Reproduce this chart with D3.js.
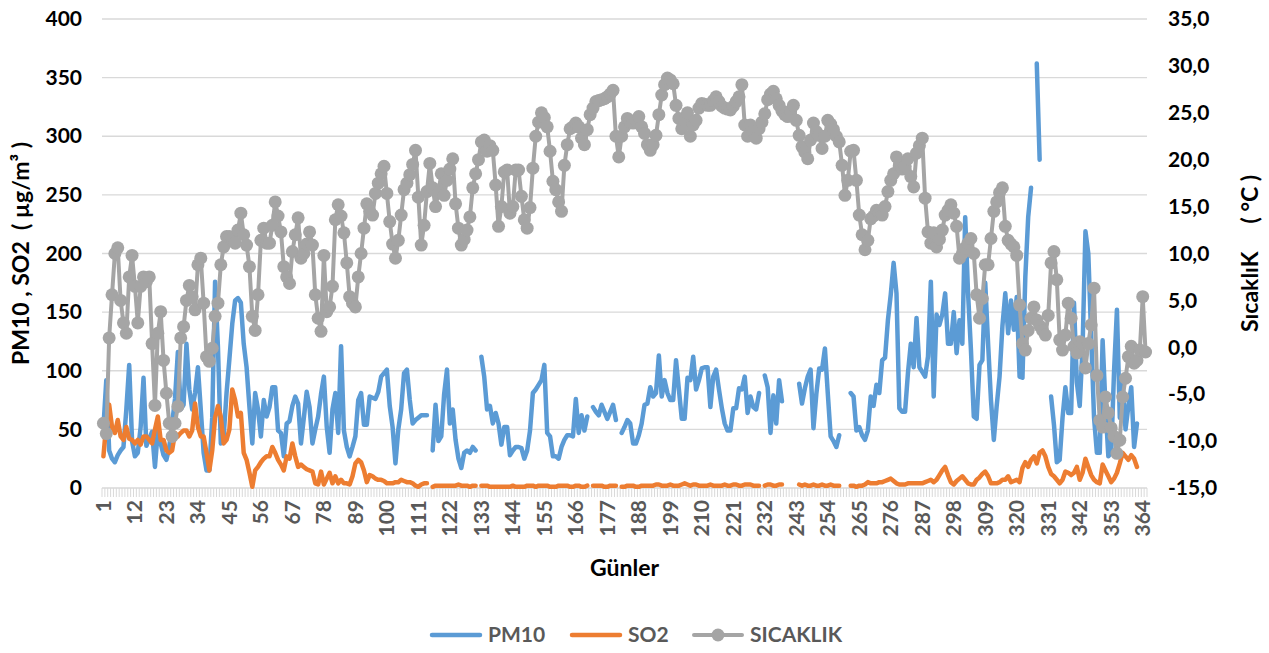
<!DOCTYPE html>
<html>
<head>
<meta charset="utf-8">
<script src="https://cdn.jsdelivr.net/npm/d3@7"></script>
<style>
  body { margin: 0; background: #ffffff; }
  svg text { font-family: Lato, "Open Sans", "Liberation Sans", sans-serif; font-weight: 700; }
</style>
</head>
<body>
<svg id="chart" width="1269" height="653"></svg>
<script>
// Daily categories and the labelled ones on the x axis
const days = d3.range(1, 366);
const tickDays = d3.range(1, 366, 11);

// Left axis (µg/m³) and right axis (°C) tick values
const leftTicks = d3.range(0, 401, 50);
const rightTicks = d3.range(-15, 36, 5);

// PM10 daily means, µg/m³ (null = no measurement)
const pm10 = [
  52, 92, 32, 25, 22, 28, 32, 35, 67, 105,
  40, 27, 30, 52, 94, 36, 42, 48, 18, 49,
  38, 28, 24, 35, 55, 76, 116, 67, 71, 123,
  84, 67, 81, 103, 67, 30, 15, 15, 60, 176,
  120, 38, 44, 81, 110, 140, 160, 162, 158, 123,
  103, 69, 38, 81, 67, 44, 75, 61, 69, 86,
  86, 49, 47, 27, 55, 57, 70, 78, 72, 38,
  60, 82, 69, 38, 50, 61, 80, 95, 52, 30,
  67, 81, 47, 121, 49, 35, 27, 35, 44, 75,
  81, 54, 54, 78, 77, 76, 82, 95, 98, 101,
  70, 52, 21, 50, 67, 98, 101, 75, 55, 58,
  60, 62, 62, 62, null, 32, 71, 40, 44, 80,
  101, 55, 67, 41, 25, 17, 30, 32, 30, 35,
  32, null, 112, 95, 67, 70, 55, 64, 55, 37,
  52, 52, 28, 32, 35, 35, 34, 25, 32, 49,
  81, 84, 88, 92, 105, 47, 44, 27, 27, 25,
  35, 41, 45, 45, 44, 76, 47, 62, 49, 61,
  null, 69, 65, 62, 71, 65, 59, 65, 71, 58,
  null, 47, 52, 58, 55, 38, 38, 45, 55, 71,
  72, 86, 78, 81, 113, 78, 92, 81, 75, 75,
  109, 84, 59, 59, 94, 92, 112, 84, 92, 102,
  103, 103, 69, 95, 101, 84, 68, 55, 49, 49,
  68, 68, 85, 84, 95, 64, 78, 69, 67, 81,
  null, 96, 86, 47, 79, 55, 92, 74, null, null,
  null, null, null, 89, 72, 85, 95, 101, 51, 80,
  102, 101, 119, 81, 44, 40, 35, 45, null, null,
  null, 81, 78, 49, 52, 45, 41, 49, 78, 70,
  88, 81, 109, 111, 143, 165, 192, 166, 68, 65,
  65, 98, 123, 103, 145, 103, 99, 95, 112, 176,
  78, 148, 139, 148, 166, 123, 123, 150, 115, 143,
  123, 231, 166, 118, 61, 59, 105, 109, 175, 123,
  75, 41, 70, 95, 138, 166, 132, 160, 135, 163,
  95, 94, 180, 231, 256, null, 362, 280, null, null,
  null, 78, 54, 22, 24, 60, 86, 64, 64, 158,
  90, 70, 120, 219, 200, 130, 60, 30, 30, 126,
  70, 27, 30, 100, 152, 60, 89, 50, 70, 86,
  35, 55, null, null, null
];

// SO2 daily means, µg/m³ (null = no measurement)
const so2 = [
  27, 55, 71, 52, 47, 58, 44, 41, 52, 42,
  41, 38, 41, 37, 44, 44, 41, 38, 50, 61,
  41, 41, 32, 30, 32, 47, 44, 47, 49, 49,
  44, 49, 72, 52, 44, 44, 30, 15, 32, 60,
  70, 61, 38, 41, 50, 84, 75, 61, 64, 30,
  24, 13, 1, 15, 18, 22, 25, 27, 27, 35,
  30, 24, 20, 15, 27, 25, 38, 27, 18, 20,
  18, 16, 15, 14, 4, 3, 14, 3, 8, 13,
  4, 10, 4, 7, 4, 4, 3, 10, 21, 24,
  22, 15, 5, 11, 10, 8, 7, 7, 6, 4,
  4, 4, 5, 5, 7, 6, 5, 5, 4, 2,
  1, 3, 4, 4, null, 1, 2, 2, 2, 2,
  2, 2, 2, 2, 3, 2, 2, 2, 1, 2,
  2, null, 2, 2, 2, 1, 1, 1, 1, 1,
  1, 1, 1, 2, 1, 1, 1, 1, 2, 2,
  2, 1, 2, 2, 2, 2, 1, 1, 1, 2,
  2, 2, 2, 1, 1, 2, 2, 1, 1, 2,
  null, 2, 2, 2, 2, 1, 1, 2, 2, 2,
  null, 1, 1, 2, 2, 2, 1, 1, 2, 2,
  2, 2, 2, 3, 3, 2, 2, 2, 3, 2,
  2, 2, 3, 4, 3, 2, 3, 3, 2, 2,
  2, 2, 3, 2, 2, 2, 2, 3, 2, 2,
  3, 3, 2, 2, 3, 3, 3, 2, 2, 2,
  null, 2, 3, 3, 2, 2, 3, 3, null, null,
  null, null, null, 3, 2, 3, 2, 2, 3, 2,
  2, 3, 2, 2, 3, 2, 2, 2, null, null,
  null, 2, 2, 1, 2, 2, 3, 5, 4, 4,
  4, 5, 5, 6, 7, 8, 6, 4, 3, 3,
  3, 4, 4, 4, 4, 4, 4, 5, 6, 7,
  5, 7, 11, 15, 18, 11, 5, 3, 6, 8,
  10, 7, 4, 3, 3, 7, 9, 12, 14, 10,
  4, 4, 4, 5, 7, 7, 10, 5, 6, 7,
  5, 17, 22, 18, 24, 27, 21, 30, 32, 27,
  18, 12, 10, 7, 4, 7, 14, 13, 11, 13,
  18, 7, 13, 25, 18, 11, 7, 5, 4, 20,
  15, 10, 5, 8, 13, 21, 30, 27, 24, 28,
  25, 18, null, null, null
];

// Daily mean air temperature, °C
const temp = [
  -8.1, -9.2, 1.0, 5.6, 10.0, 10.6, 5.0, 2.6, 1.5, 7.5,
  9.8, 6.5, 2.6, 6.5, 7.5, 7.0, 7.5, 0.4, -6.2, 1.5,
  3.8, -1.4, -4.9, -8.1, -9.5, -8.1, -6.3, 1.0, 2.2, 5.0,
  6.6, 5.4, 4.0, 8.8, 9.5, 4.7, -1.0, -1.5, -0.1, 3.3,
  4.7, 8.8, 10.7, 11.8, 11.8, 11.5, 11.1, 12.5, 14.3, 12.0,
  10.9, 8.6, 3.3, 1.8, 5.6, 11.4, 12.7, 11.1, 11.1, 13.0,
  15.5, 14.0, 12.3, 8.6, 7.5, 6.8, 10.2, 12.0, 13.8, 9.5,
  10.0, 11.0, 12.3, 10.9, 5.6, 3.1, 1.7, 9.8, 3.8, 4.3,
  6.5, 13.6, 15.2, 14.0, 12.2, 9.0, 5.4, 4.7, 4.3, 7.5,
  10.0, 12.7, 15.3, 14.5, 14.1, 16.4, 17.5, 18.5, 19.3, 16.4,
  13.4, 11.0, 9.5, 11.4, 14.1, 16.8, 17.5, 18.4, 19.5, 21.0,
  16.0, 10.9, 13.0, 16.6, 19.6, 17.0, 15.0, 16.5, 18.5, 16.2,
  17.8, 19.0, 20.1, 15.3, 12.7, 10.9, 11.5, 12.5, 13.9, 17.0,
  18.5, 20.0, 21.9, 22.1, 20.9, 21.5, 21.0, 17.3, 12.9, 15.0,
  18.7, 18.9, 14.3, 15.0, 18.9, 18.9, 16.1, 13.6, 12.7, 14.9,
  19.1, 22.5, 24.0, 25.0, 24.5, 23.5, 20.9, 17.7, 16.8, 15.5,
  14.5, 19.4, 21.6, 23.3, 23.5, 23.9, 23.5, 22.3, 21.6, 23.2,
  24.8, 25.5, 26.2, 26.3, 26.4, 26.5, 26.7, 27.0, 27.4, 22.5,
  20.3, 22.5, 23.5, 24.4, 24.0, 23.9, 24.2, 24.6, 23.5, 22.8,
  21.6, 21.0, 21.6, 22.6, 24.8, 26.9, 28.0, 28.7, 28.5, 28.1,
  25.8, 24.4, 23.3, 24.2, 25.0, 22.5, 23.7, 24.2, 25.5, 26.0,
  25.9, 25.8, 25.8, 26.3, 26.7, 26.2, 25.7, 25.5, 25.4, 25.3,
  25.7, 26.2, 26.7, 28.0, 23.7, 22.5, 23.7, 23.0, 22.3, 23.3,
  24.0, 24.9, 26.4, 27.0, 27.3, 26.5, 25.8, 25.2, 24.8, 24.6,
  25.2, 25.8, 24.2, 22.6, 21.4, 20.8, 20.1, 22.1, 23.9, 23.0,
  22.6, 21.2, 22.5, 24.2, 23.8, 23.2, 22.5, 21.9, 19.4, 16.2,
  17.8, 20.9, 21.0, 17.8, 14.1, 12.0, 10.4, 11.4, 13.7, 14.0,
  14.6, 14.3, 14.1, 15.0, 16.6, 17.8, 18.5, 20.3, 19.4, 19.0,
  19.3, 20.1, 18.2, 17.1, 20.7, 21.5, 22.3, 15.9, 12.3, 11.1,
  12.2, 10.7, 11.5, 12.5, 14.1, 14.6, 15.2, 14.3, 12.9, 9.5,
  10.0, 10.6, 11.1, 11.6, 10.0, 5.6, 3.1, 5.2, 8.8, 8.8,
  11.6, 14.5, 15.5, 16.5, 17.0, 12.9, 11.4, 11.0, 10.7, 9.8,
  4.5, 0.4, -0.3, 1.8, 3.1, 4.3, 2.9, 2.3, 1.8, 1.3,
  3.4, 9.0, 10.2, 7.2, 0.8, -0.3, 1.3, 4.7, 3.1, 0.1,
  -0.6, 0.6, 0.4, -2.2, 0.4, 2.4, 6.3, -3.0, -7.8, -8.5,
  -5.3, -7.0, -8.6, -9.5, -11.3, -9.9, -5.3, -3.3, -1.0, 0.1,
  -1.7, -1.4, -0.3, 5.4, -0.5
];

const seriesNames = ["PM10", "SO2", "SICAKLIK"];

const svg = d3.select("#chart");
const plot = { left: 102, right: 1147, top: 19, bottom: 488 };

const x = d3.scaleBand().domain(days).range([plot.left, plot.right]).padding(0);
const cx = d => x(d) + x.bandwidth() / 2;
const yL = d3.scaleLinear().domain([0, 400]).range([plot.bottom, plot.top]);
const yR = d3.scaleLinear().domain([-15, 35]).range([plot.bottom, plot.top]);

const gridColor = "#d9d9d9";
const tickTextColor = "#595959";

// Horizontal gridlines from the left axis
svg.append("g")
  .selectAll("line")
  .data(leftTicks)
  .join("line")
  .attr("x1", plot.left).attr("x2", plot.right)
  .attr("y1", d => yL(d)).attr("y2", d => yL(d))
  .attr("stroke", gridColor).attr("stroke-width", 1.3);

// One small tick per day under the baseline
const boundaries = days.map(d => x(d)).concat([plot.right]);
svg.append("g")
  .selectAll("line")
  .data(boundaries)
  .join("line")
  .attr("x1", d => d).attr("x2", d => d)
  .attr("y1", plot.bottom).attr("y2", plot.bottom + 9)
  .attr("stroke", gridColor).attr("stroke-width", 1);

// Left axis labels
const leftAxis = svg.append("g")
  .attr("transform", `translate(${plot.left},0)`)
  .call(d3.axisLeft(yL).tickValues(leftTicks).tickSize(0).tickPadding(20).tickFormat(d3.format("d")));
leftAxis.select(".domain").remove();
leftAxis.selectAll("text").attr("font-size", 21).attr("fill", "#000");

// Right axis labels
const rightAxis = svg.append("g")
  .attr("transform", `translate(${plot.right},0)`)
  .call(d3.axisRight(yR).tickValues(rightTicks).tickSize(0).tickPadding(21)
    .tickFormat(d => d.toFixed(1).replace(".", ",")));
rightAxis.select(".domain").remove();
rightAxis.selectAll("text").attr("font-size", 21).attr("fill", "#000");

// Bottom axis labels, rotated
const bottomAxis = svg.append("g")
  .attr("transform", `translate(0,${plot.bottom})`)
  .call(d3.axisBottom(x).tickValues(tickDays).tickSize(0));
bottomAxis.select(".domain").remove();
bottomAxis.selectAll("text")
  .attr("font-size", 21)
  .attr("fill", tickTextColor)
  .attr("text-anchor", "end")
  .attr("dy", "0.35em")
  .attr("transform", "translate(0,12) rotate(-90)")
  .attr("y", 0).attr("x", 0);

// Axis titles
svg.append("text")
  .attr("x", (plot.left + plot.right) / 2).attr("y", 576)
  .attr("text-anchor", "middle").attr("font-size", 23).attr("fill", "#000")
  .text("Günler");

svg.append("text")
  .attr("transform", `translate(21,${(plot.top + plot.bottom) / 2}) rotate(-90)`)
  .attr("text-anchor", "middle").attr("dy", "0.35em")
  .attr("font-size", 23).attr("fill", "#000")
  .attr("xml:space", "preserve").style("white-space", "pre")
  .text("PM10 , SO2  ( µg/m³ )");

svg.append("text")
  .attr("transform", `translate(1250,${(plot.top + plot.bottom) / 2}) rotate(-90)`)
  .attr("text-anchor", "middle").attr("dy", "0.35em")
  .attr("font-size", 23).attr("fill", "#000")
  .attr("xml:space", "preserve").style("white-space", "pre")
  .text("SıcaklıK     ( °C )");

// Series lines
const lineL = d3.line().defined(d => d.v != null).x(d => cx(d.day)).y(d => yL(d.v)).curve(d3.curveLinear);
const lineR = d3.line().defined(d => d.v != null).x(d => cx(d.day)).y(d => yR(d.v));

const pmData = days.map((d, i) => ({ day: d, v: pm10[i] }));
const soData = days.map((d, i) => ({ day: d, v: so2[i] }));
const tData = days.map((d, i) => ({ day: d, v: temp[i] }));

const colors = { PM10: "#5b9bd5", SO2: "#ed7d31", SICAKLIK: "#a5a5a5" };

svg.append("path").datum(pmData).attr("d", lineL)
  .attr("fill", "none").attr("stroke", colors.PM10).attr("stroke-width", 4.5)
  .attr("stroke-linejoin", "round").attr("stroke-linecap", "round");

svg.append("path").datum(soData).attr("d", lineL)
  .attr("fill", "none").attr("stroke", colors.SO2).attr("stroke-width", 4.5)
  .attr("stroke-linejoin", "round").attr("stroke-linecap", "round");

svg.append("path").datum(tData).attr("d", lineR)
  .attr("fill", "none").attr("stroke", colors.SICAKLIK).attr("stroke-width", 4)
  .attr("stroke-linejoin", "round").attr("stroke-linecap", "round");

svg.append("g").selectAll("circle")
  .data(tData.filter(d => d.v != null))
  .join("circle")
  .attr("cx", d => cx(d.day)).attr("cy", d => yR(d.v)).attr("r", 6.5)
  .attr("fill", colors.SICAKLIK);

// Legend
const legendItems = [
  { name: seriesNames[0], x: 432 },
  { name: seriesNames[1], x: 572 },
  { name: seriesNames[2], x: 694, marker: true }
];
const legend = svg.append("g").attr("transform", "translate(0,635)");
legendItems.forEach(it => {
  const g = legend.append("g").attr("transform", `translate(${it.x},0)`);
  g.append("line").attr("x1", 0).attr("x2", 48).attr("y1", 0).attr("y2", 0)
    .attr("stroke", colors[it.name]).attr("stroke-width", it.marker ? 4 : 4.5)
    .attr("stroke-linecap", "round");
  if (it.marker) g.append("circle").attr("cx", 24).attr("cy", 0).attr("r", 6.5).attr("fill", colors[it.name]);
  g.append("text").attr("x", 56).attr("dy", "0.35em")
    .attr("font-size", 21).attr("fill", tickTextColor).text(it.name);
});
</script>
</body>
</html>
